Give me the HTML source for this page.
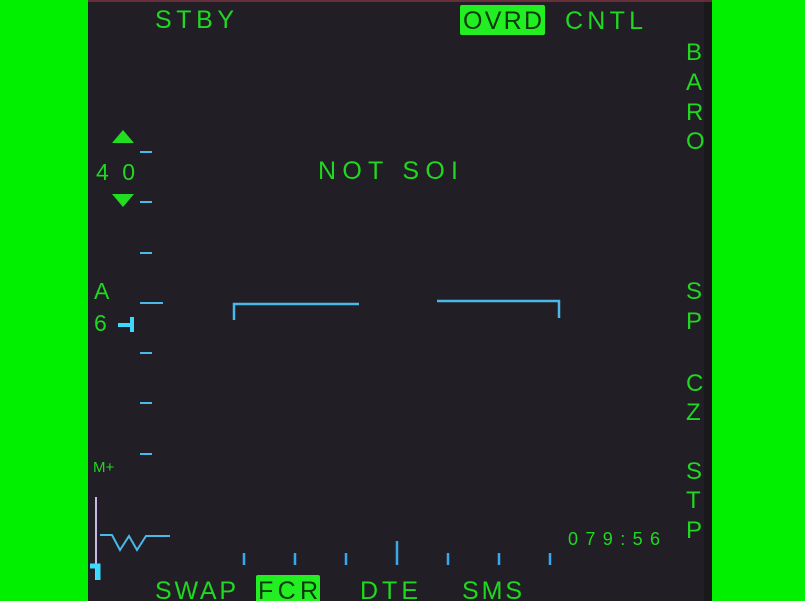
<!DOCTYPE html>
<html><head><meta charset="utf-8"><style>
html,body{margin:0;padding:0;background:#00f000;}
#wrap{position:relative;width:805px;height:601px;overflow:hidden;background:#00f000;}
svg{position:absolute;left:0;top:0;}
text{font-family:"Liberation Sans",sans-serif;fill:#1fd81f;}
</style></head><body>
<div id="wrap">
<svg id="s" width="805" height="601" viewBox="0 0 805 601">
<rect x="88" y="0" width="624" height="601" fill="#211f25"/>
<rect x="704" y="0" width="8" height="601" fill="#19181b"/>
<line x1="88" y1="1" x2="712" y2="1" stroke="#b04050" stroke-width="1"/>
<text x="155" y="28" font-size="25" textLength="79">STBY</text>
<rect x="460" y="5" width="85" height="30" rx="2" fill="#22ee22"/>
<text x="463" y="29" font-size="25" textLength="79" style="fill:#0a3a0a">OVRD</text>
<text x="565" y="29" font-size="25" textLength="78">CNTL</text>
<g>
<text x="686" y="60" font-size="24">B</text><text x="686" y="90" font-size="24">A</text>
<text x="686" y="120" font-size="24">R</text><text x="686" y="149" font-size="24">O</text></g>
<g>
<text x="686" y="299" font-size="24">S</text><text x="686" y="329" font-size="24">P</text></g>
<g>
<text x="686" y="391" font-size="24">C</text><text x="686" y="420" font-size="24">Z</text></g>
<g>
<text x="686" y="479" font-size="24">S</text><text x="686" y="508" font-size="24">T</text><text x="686" y="538" font-size="24">P</text></g>
<text x="318" y="179" font-size="25" textLength="140">NOT SOI</text>
<polygon points="123,130 112,143 134,143" fill="#22dd22"/>
<text x="96" y="180" font-size="23" textLength="39">40</text>
<polygon points="123,207 112,194 134,194" fill="#22dd22"/>
<text x="94" y="299" font-size="23">A</text>
<text x="94" y="331" font-size="23">6</text>
<path d="M118,325 H130 M132,317 V332" stroke="#3dd8ff" stroke-width="4" fill="none"/>
<text x="93" y="472" font-size="15">M+</text>
<path d="M96,497 V580" stroke="#c8b8e8" stroke-width="2"/>
<path d="M90,566 H98 V580" stroke="#3dd8ff" stroke-width="5" fill="none"/>
<path d="M100,535 H112 L120,550 L129,536 L137,550 L146,536 H170" stroke="#4ab8e8" stroke-width="2" fill="none"/>
<path d="M234,320 V304 H359" stroke="#4ab8e8" stroke-width="2.5" fill="none"/>
<path d="M437,301 H559 V318" stroke="#4ab8e8" stroke-width="2.5" fill="none"/>
<text x="568" y="545" font-size="18" textLength="92">079:56</text>
<text x="155" y="599" font-size="25" textLength="81">SWAP</text>
<rect x="256" y="575" width="64" height="30" rx="2" fill="#22ee22"/>
<text x="258" y="599" font-size="25" textLength="60" style="fill:#0a3a0a">FCR</text>
<text x="360" y="599" font-size="25" textLength="58">DTE</text>
<text x="462" y="599" font-size="25" textLength="60">SMS</text>
<g id="ticks"></g>
</svg>
</div>
<script>
var leftTickY=[152,202,253,303,353,403,454];
var leftTickLen=[12,12,12,23,12,12,12];
var bottomTickX=[244,295,346,397,448,499,550];
var bottomTickTop=[553,553,553,541,553,553,553];
var NS="http://www.w3.org/2000/svg";
var g=document.getElementById('ticks');
for(var i=0;i<leftTickY.length;i++){
  var l=document.createElementNS(NS,'line');
  l.setAttribute('x1',140);l.setAttribute('x2',140+leftTickLen[i]);
  l.setAttribute('y1',leftTickY[i]);l.setAttribute('y2',leftTickY[i]);
  l.setAttribute('stroke','#4ab8e8');l.setAttribute('stroke-width','2');
  
  
  g.appendChild(l);
}
for(var j=0;j<bottomTickX.length;j++){
  var b=document.createElementNS(NS,'line');
  b.setAttribute('x1',bottomTickX[j]);b.setAttribute('x2',bottomTickX[j]);
  b.setAttribute('y1',bottomTickTop[j]);b.setAttribute('y2',565);
  b.setAttribute('stroke','#3aa8e8');b.setAttribute('stroke-width','2.5');
  
  
  g.appendChild(b);
}
</script>
</body></html>
